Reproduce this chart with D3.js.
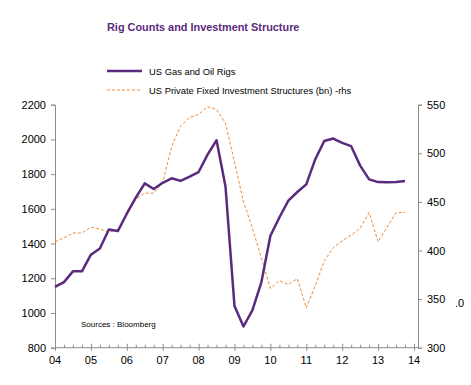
<!DOCTYPE html>
<html>
<head>
<meta charset="utf-8">
<script src="https://cdn.jsdelivr.net/npm/d3@7"></script>
<style>
body { margin: 0; background: #fff; }
svg { font-family: "Liberation Sans", Arial, sans-serif; }
</style>
</head>
<body>
<svg id="chart" width="471" height="385"></svg>
<script>
// quarterly data, 2004Q1 .. 2013Q4
var years = ["04", "05", "06", "07", "08", "09", "10", "11", "12", "13", "14"];
var rigs = [1150, 1178, 1240, 1240, 1336, 1372, 1481, 1472, 1572, 1664, 1747, 1714,
	1750, 1776, 1761, 1786, 1812, 1912, 1995, 1727, 1040, 922, 1017, 1178,
	1445, 1550, 1647, 1697, 1741, 1886, 1991, 2005, 1980, 1961, 1849, 1770,
	1754, 1753, 1754, 1760];
var invest = [409, 413, 418, 418, 424, 422, 419, 421, 437, 453, 459, 459,
	470, 507, 528, 537, 540, 548, 545, 531, 491, 450, 423, 392,
	361, 369, 365, 371, 341, 364, 389, 403, 410, 416, 423, 439,
	409, 424, 439, 439];
var leftTicks = [800, 1000, 1200, 1400, 1600, 1800, 2000, 2200];
var rightTicks = [300, 350, 400, 450, 500, 550];

var purple = "#5b2a7e", orange = "#ef8a3a", axisCol = "#8c8c8c";
var svg = d3.select("#chart");

var x = d3.scaleLinear().domain([0, 40]).range([55, 414]);
var yL = d3.scaleLinear().domain([800, 2200]).range([347.7, 104.7]);
var yR = d3.scaleLinear().domain([300, 550]).range([347.7, 104.7]);

// title
svg.append("text")
	.attr("x", 107).attr("y", 30.5)
	.style("font-size", "10.9px").style("font-weight", "bold")
	.style("fill", purple)
	.text("Rig Counts and Investment Structure");

// legend
svg.append("line").attr("x1", 107).attr("x2", 142).attr("y1", 71).attr("y2", 71)
	.style("stroke", purple).style("stroke-width", 2.5);
svg.append("text").attr("x", 149).attr("y", 74.5).style("font-size", "9.4px").text("US Gas and Oil Rigs");
svg.append("line").attr("x1", 107).attr("x2", 142).attr("y1", 90).attr("y2", 90)
	.style("stroke", orange).style("stroke-width", 1).style("stroke-dasharray", "3,2");
svg.append("text").attr("x", 149).attr("y", 93.5).style("font-size", "9.4px")
	.text("US Private Fixed Investment Structures (bn) -rhs");

// left axis
var gl = svg.append("g").attr("transform", "translate(55,0)")
	.call(d3.axisLeft(yL).tickValues(leftTicks).tickSize(4).tickPadding(5).tickFormat(d3.format("d")));
// right axis
var gr = svg.append("g").attr("transform", "translate(418,0)")
	.call(d3.axisRight(yR).tickValues(rightTicks).tickSize(4).tickPadding(5));
// x axis with quarterly ticks
var gx = svg.append("g").attr("transform", "translate(0,347.7)")
	.call(d3.axisBottom(x).tickValues(d3.range(0, 41)).tickSize(0).tickFormat(""));
gx.select(".domain").attr("d", "M55,0H418");
gx.selectAll(".tick line").attr("y1", d => d % 4 == 0 ? -4 : -3).attr("y2", d => d % 4 == 0 ? 3 : 0);

svg.selectAll(".domain, .tick line").style("stroke", axisCol);
svg.selectAll(".tick text").style("font-size", "11px").style("fill", "#000").style("font-family", "Liberation Sans, Arial, sans-serif");

svg.append("g").selectAll("text")
	.data(years)
	.join("text")
	.attr("x", (d, i) => x(i * 4))
	.attr("y", 364)
	.attr("text-anchor", "middle")
	.style("font-size", "11px")
	.text(d => d);

// lines
var lineL = d3.line().x((d, i) => x(i)).y(d => yL(d));
var lineR = d3.line().x((d, i) => x(i)).y(d => yR(d));

svg.append("path").datum(invest).attr("d", lineR)
	.style("fill", "none").style("stroke", orange).style("stroke-width", 1)
	.style("stroke-dasharray", "3,2");
svg.append("path").datum(rigs).attr("d", lineL)
	.style("fill", "none").style("stroke", purple).style("stroke-width", 2.5)
	.style("stroke-linejoin", "round");

svg.append("text").attr("x", 81).attr("y", 327).style("font-size", "8px").text("Sources  : Bloomberg");
svg.append("text").attr("x", 455).attr("y", 307).style("font-size", "11px").text(".0");
</script>
</body>
</html>
